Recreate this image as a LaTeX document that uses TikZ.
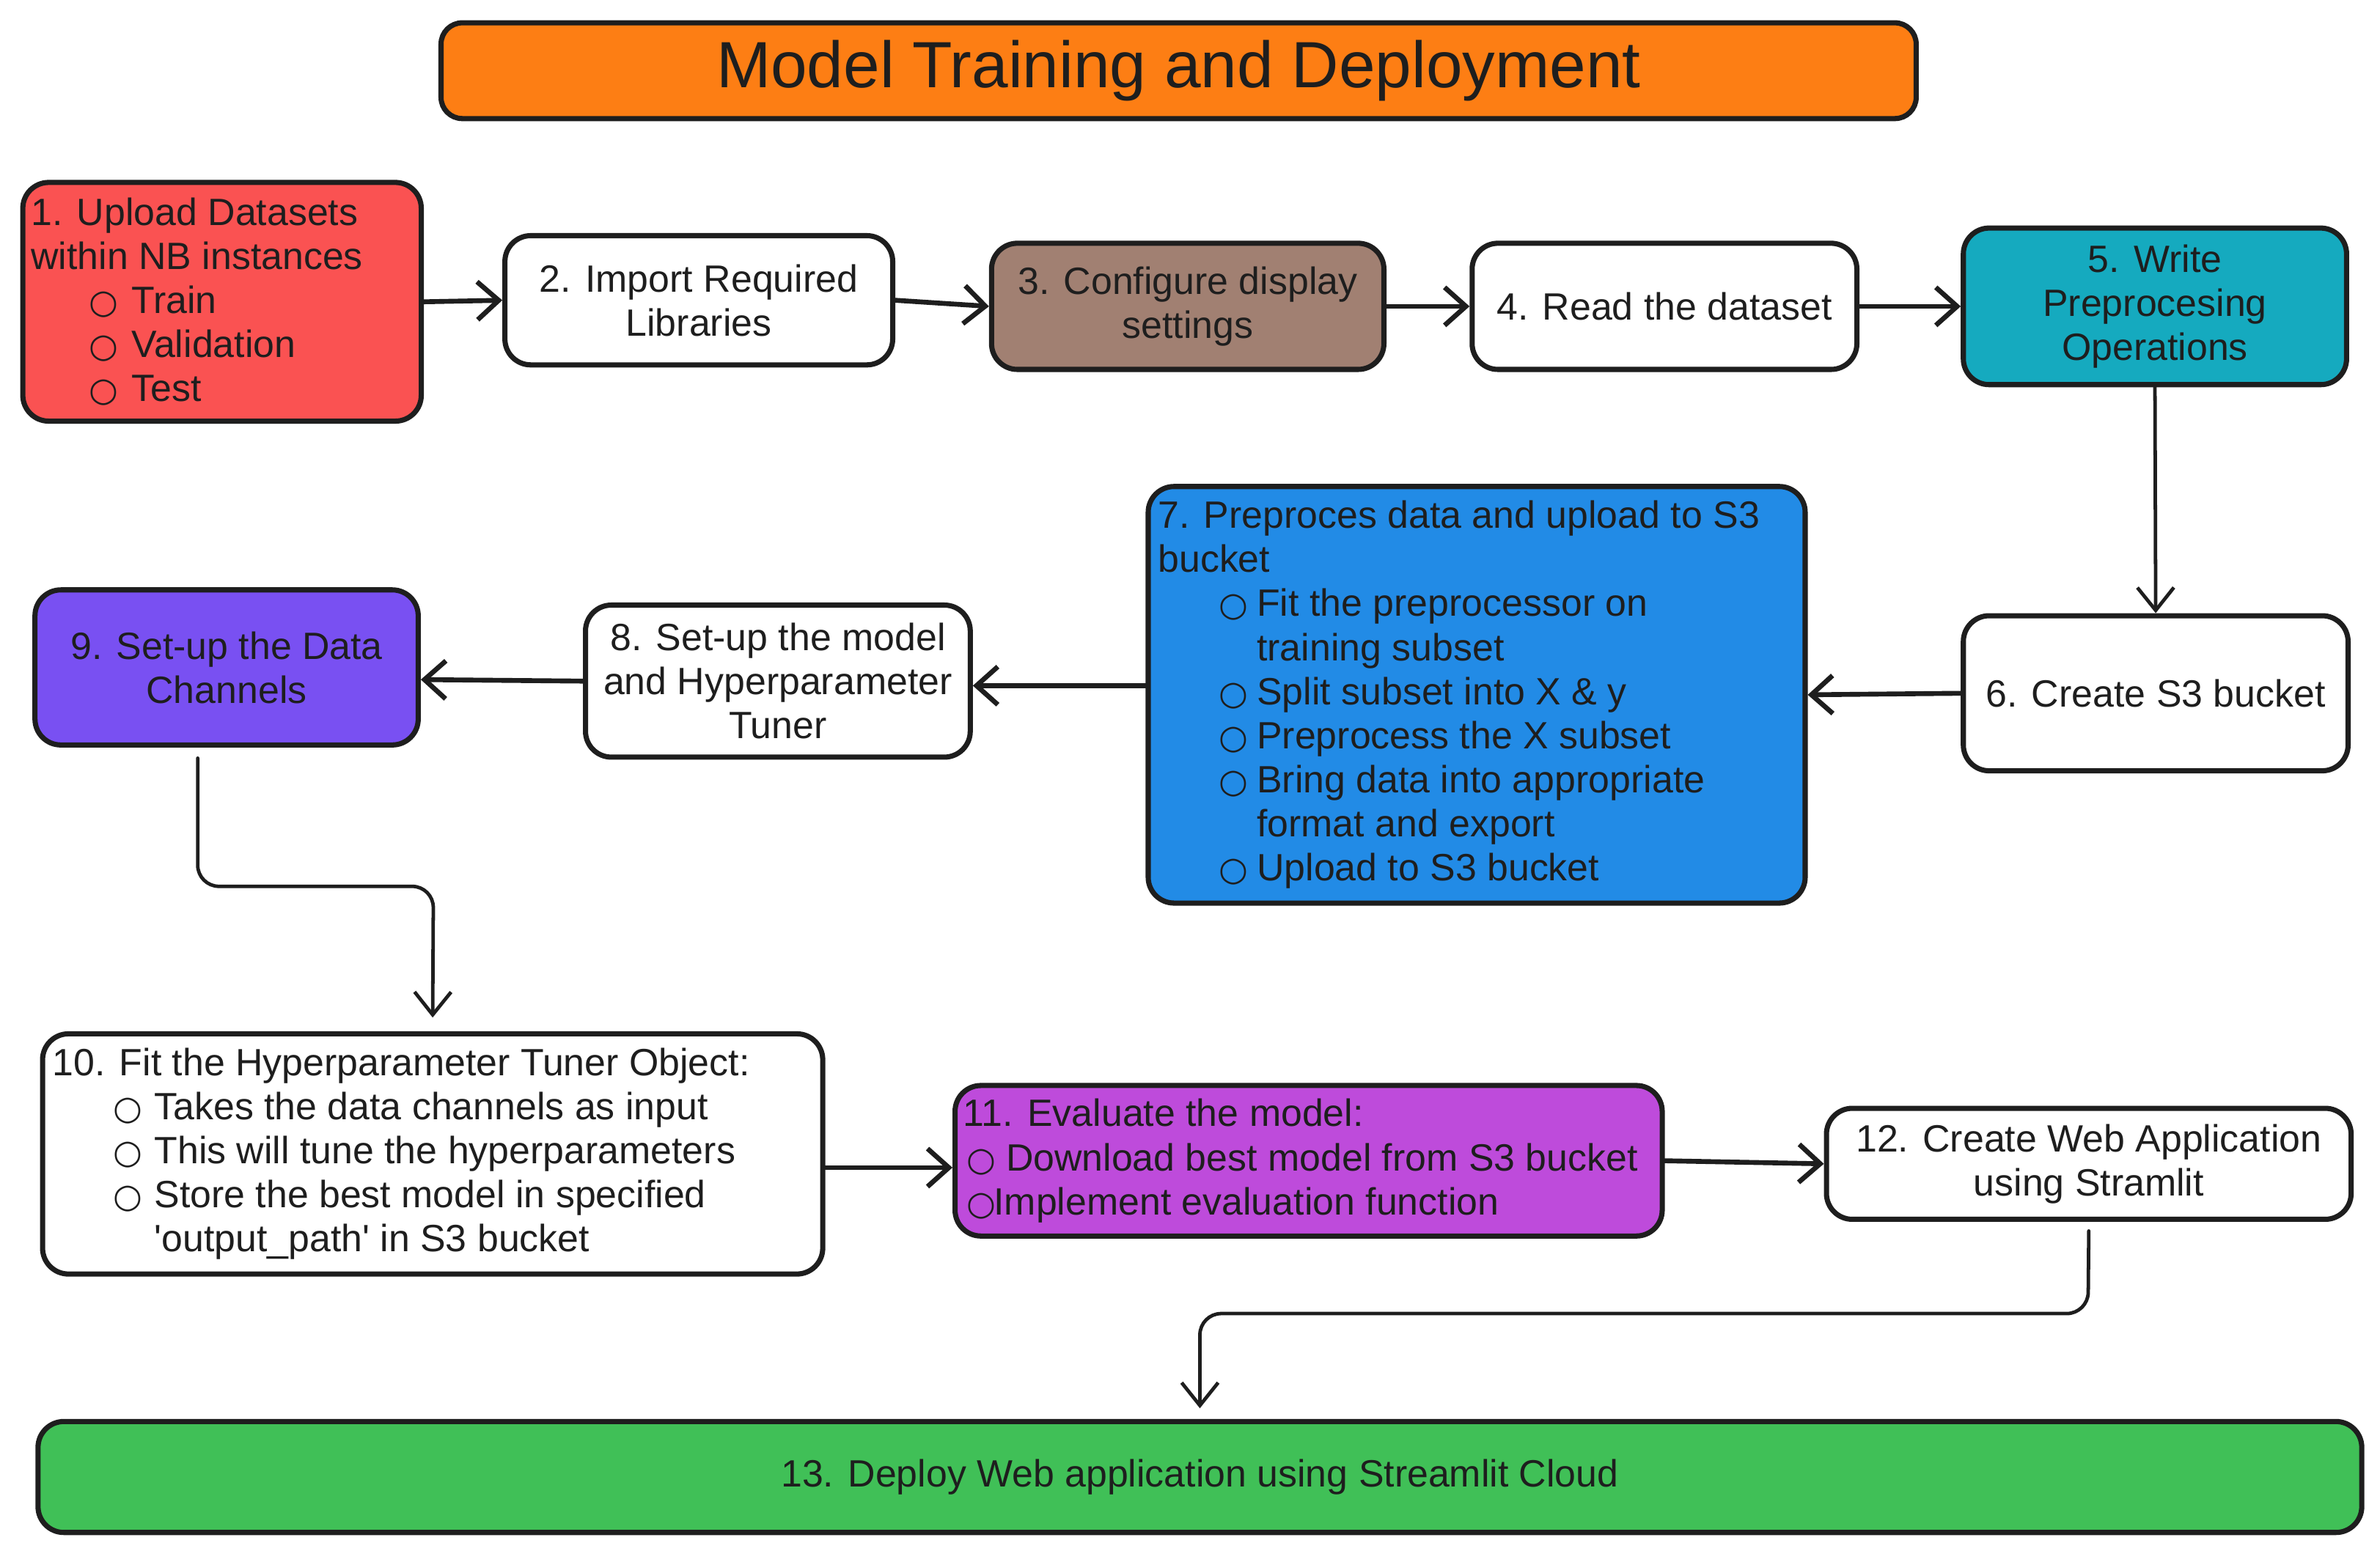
\documentclass[tikz,border=0pt]{standalone}
\usepackage{fontspec}
\setmainfont{Liberation Sans}
\newfontfamily\symf{DejaVu Sans}
\usetikzlibrary{arrows.meta}
\definecolor{ink}{HTML}{1E1E1E}
\definecolor{corange}{HTML}{FD7E14}
\definecolor{cred}{HTML}{FA5252}
\definecolor{cbrown}{HTML}{A18072}
\definecolor{cteal}{HTML}{15AABF}
\definecolor{cblue}{HTML}{228BE6}
\definecolor{cviolet}{HTML}{7950F2}
\definecolor{cpurple}{HTML}{BE4BDB}
\definecolor{cgreen}{HTML}{40C057}
\newcommand\bulg{{\symf\fontsize{22}{22}\selectfont ○}}
\newcommand\bitem[3]{\hspace*{#1pt}\makebox[#2pt][l]{\bulg}#3}
\newcommand\contl[2]{\hspace*{#1pt}#2}
\tikzset{
  box/.style={draw=ink, line width=3.4pt, rounded corners=17pt, align=center,
    inner sep=0pt, font=\fontsize{25}{29}\selectfont, text=ink},
  txt/.style={anchor=west, align=left, inner sep=0pt, font=\fontsize{25}{29}\selectfont, text=ink},
  arr/.style={draw=ink, line width=3.2pt, line cap=round,
    -{Straight Barb[length=14pt,width=25pt]}},
  arrthin/.style={draw=ink, line width=2.3pt, line cap=round, rounded corners=14pt,
    -{Straight Barb[length=15pt,width=24pt]}}
}
\begin{document}
\begin{tikzpicture}[x=1pt,y=-1pt]
\useasboundingbox (0,0) rectangle (1565,1020);
\fill[white] (0,0) rectangle (1565,1020);

% title
\node[box, fill=corange, minimum width=970, minimum height=63, rounded corners=14pt,
      font=\fontsize{43}{50}\selectfont] (title) at (775,46.5) {Model Training and Deployment};

% boxes
\node[box, fill=cred, minimum width=262, minimum height=157] (b1) at (146,198.5) {};
\node[txt] (t1) at ([xshift=7pt]b1.west) {1. Upload Datasets\\within NB instances\\
  \bitem{38}{28}{Train}\\\bitem{38}{28}{Validation}\\\bitem{38}{28}{Test}};

\node[box, fill=white, minimum width=255, minimum height=85] (b2) at (459.5,197.5) {2. Import Required\\Libraries};
\node[box, fill=cbrown, minimum width=258, minimum height=83] (b3) at (781,201.5) {3. Configure display\\settings};
\node[box, fill=white, minimum width=253, minimum height=83] (b4) at (1094.5,201.5) {4. Read the dataset};
\node[box, fill=cteal, minimum width=252, minimum height=103] (b5) at (1417,201.5) {5. Write\\Preprocesing\\Operations};
\node[box, fill=white, minimum width=253, minimum height=102] (b6) at (1417.5,456) {6. Create S3 bucket};

\node[box, fill=cblue, minimum width=432, minimum height=274] (b7) at (971,457) {};
\node[txt] (t7) at ([xshift=8pt]b7.west) {7. Preproces data and upload to S3\\bucket\\
  \bitem{40}{25}{Fit the preprocessor on}\\\contl{65}{training subset}\\
  \bitem{40}{25}{Split subset into X \& y}\\\bitem{40}{25}{Preprocess the X subset}\\
  \bitem{40}{25}{Bring data into appropriate}\\\contl{65}{format and export}\\
  \bitem{40}{25}{Upload to S3 bucket}};

\node[box, fill=white, minimum width=253, minimum height=100] (b8) at (511.5,448) {8. Set-up the model\\and Hyperparameter\\Tuner};
\node[box, fill=cviolet, minimum width=252, minimum height=102] (b9) at (149,439) {9. Set-up the Data\\Channels};

\node[box, fill=white, minimum width=513, minimum height=158] (b10) at (284.5,759) {};
\node[txt] (t10) at ([xshift=8pt]b10.west) {10. Fit the Hyperparameter Tuner Object:\\
  \bitem{40}{27}{Takes the data channels as input}\\
  \bitem{40}{27}{This will tune the hyperparameters}\\
  \bitem{40}{27}{Store the best model in specified}\\
  \contl{67}{\textquotesingle output\_path\textquotesingle\ in S3 bucket}};

\node[box, fill=cpurple, minimum width=465, minimum height=99] (b11) at (860.5,763.5) {};
\node[txt] (t11) at ([xshift=7pt]b11.west) {11. Evaluate the model:\\
  \bitem{2}{26}{Download best model from S3 bucket}\\
  \bitem{2}{18}{Implement evaluation function}};

\node[box, fill=white, minimum width=345, minimum height=73] (b12) at (1373.5,765.5) {12. Create Web Application\\using Stramlit};
\node[box, fill=cgreen, minimum width=1528, minimum height=73] (b13) at (789,971.5) {13. Deploy Web application using Streamlit Cloud};

% bend points
\coordinate (k1) at (130,583);
\coordinate (k2) at (285,583);
\coordinate (k3) at (1373,864);
\coordinate (k4) at (789,864);

% connectors
\draw[arr] (b1.east) -- (b2.west);
\draw[arr] (b2.east) -- (b3.west);
\draw[arr] (b3.east) -- (b4.west);
\draw[arr] (b4.east) -- (b5.west);
\draw[arrthin] (b5.south) -- (b6.north);
\draw[arr] (b6.west) -- (b7.east);
\draw[arr] ([yshift=6pt]b7.west) -- ([yshift=-3pt]b8.east);
\draw[arr] (b8.west) -- ([yshift=-8pt]b9.east);
\draw[arrthin] ([xshift=-19pt,yshift=-7pt]b9.south) -- (k1) -- (k2) -- ([yshift=9pt]b10.north);
\draw[arr] ([yshift=-9pt]b10.east) -- ([yshift=-4.5pt]b11.west);
\draw[arr] (b11.east) -- (b12.west);
\draw[arrthin] ([yshift=-6pt]b12.south) -- (k3) -- (k4) -- ([yshift=7pt]b13.north);
\end{tikzpicture}
\end{document}
